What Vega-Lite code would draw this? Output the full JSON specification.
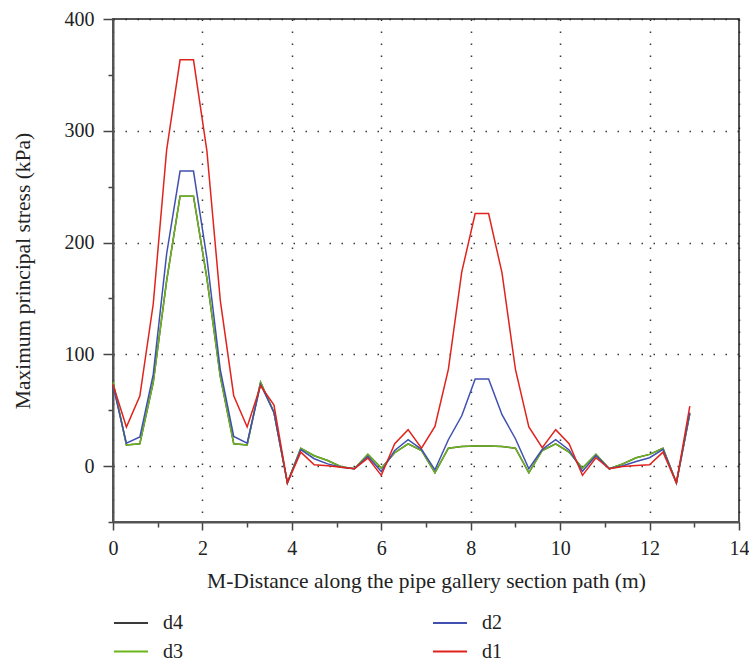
{
  "$schema": "https://vega.github.io/schema/vega-lite/v6.json",
  "width": 626,
  "height": 503,
  "padding": {"left": 12, "top": 9, "right": 0, "bottom": 0},
  "config": {
    "font": "Liberation Serif",
    "view": {"stroke": "#555555", "strokeWidth": 2},
    "axis": {
      "domainColor": "#555555",
      "domainWidth": 2,
      "tickColor": "#444444",
      "tickWidth": 1.5,
      "labelFont": "Liberation Serif",
      "titleFont": "Liberation Serif",
      "labelFontSize": 20,
      "titleFontSize": 21.5,
      "labelColor": "#222222",
      "titleColor": "#222222",
      "titleFontWeight": "normal",
      "labelFlush": false,
      "gridColor": "#222222",
      "gridDash": [1.5, 10.5],
      "gridWidth": 1.5,
      "gridOpacity": 0.9
    },
    "legend": {"padding": 0}
  },
  "data": {
    "values": [
      {"x": 0.0, "d1": 73, "d2": 72, "d3": 75, "d4": 75},
      {"x": 0.3, "d1": 35, "d2": 20.6, "d3": 19, "d4": 19},
      {"x": 0.6, "d1": 62.7, "d2": 26, "d3": 20, "d4": 20},
      {"x": 0.9, "d1": 145, "d2": 82, "d3": 75, "d4": 75},
      {"x": 1.2, "d1": 283, "d2": 190, "d3": 166, "d4": 166},
      {"x": 1.5, "d1": 363.5, "d2": 264, "d3": 241.5, "d4": 241.5},
      {"x": 1.8, "d1": 363.5, "d2": 264, "d3": 241.5, "d4": 241.5},
      {"x": 2.1, "d1": 282, "d2": 186, "d3": 168, "d4": 168},
      {"x": 2.4, "d1": 148, "d2": 86, "d3": 80, "d4": 80},
      {"x": 2.7, "d1": 63, "d2": 26.6, "d3": 20, "d4": 20},
      {"x": 3.0, "d1": 35, "d2": 20.6, "d3": 19, "d4": 19},
      {"x": 3.3, "d1": 72, "d2": 73, "d3": 75, "d4": 75},
      {"x": 3.6, "d1": 54.6, "d2": 48, "d3": 48, "d4": 48},
      {"x": 3.9, "d1": -15, "d2": -15, "d3": -15, "d4": -15},
      {"x": 4.2, "d1": 12.5, "d2": 14.7, "d3": 16, "d4": 16},
      {"x": 4.5, "d1": 1.2, "d2": 6.6, "d3": 9.3, "d4": 9.3},
      {"x": 4.8, "d1": 0.3, "d2": 2, "d3": 5, "d4": 5},
      {"x": 5.1, "d1": -1, "d2": -1, "d3": -0.5, "d4": -0.5},
      {"x": 5.4, "d1": -2.4, "d2": -2.4, "d3": -2.4, "d4": -2.4},
      {"x": 5.7, "d1": 7.2, "d2": 8.7, "d3": 10.5, "d4": 10.5},
      {"x": 6.0, "d1": -8.3, "d2": -4.8, "d3": -1.8, "d4": -1.8},
      {"x": 6.3, "d1": 20, "d2": 14, "d3": 12, "d4": 12},
      {"x": 6.6, "d1": 32.6, "d2": 23.6, "d3": 20, "d4": 20},
      {"x": 6.9, "d1": 16, "d2": 15, "d3": 14, "d4": 14},
      {"x": 7.2, "d1": 35.5, "d2": -3.3, "d3": -6, "d4": -6},
      {"x": 7.5, "d1": 86.6, "d2": 23.6, "d3": 16, "d4": 16},
      {"x": 7.8, "d1": 173.7, "d2": 45, "d3": 17.6, "d4": 17.6},
      {"x": 8.1, "d1": 226, "d2": 78, "d3": 18, "d4": 18},
      {"x": 8.4, "d1": 226, "d2": 78, "d3": 18, "d4": 18},
      {"x": 8.7, "d1": 172.8, "d2": 46, "d3": 17.5, "d4": 17.5},
      {"x": 9.0, "d1": 86.6, "d2": 24.5, "d3": 16, "d4": 16},
      {"x": 9.3, "d1": 35, "d2": -2.4, "d3": -6, "d4": -6},
      {"x": 9.6, "d1": 16.4, "d2": 15, "d3": 14, "d4": 14},
      {"x": 9.9, "d1": 32.6, "d2": 23.6, "d3": 20, "d4": 20},
      {"x": 10.2, "d1": 20, "d2": 14.5, "d3": 12.5, "d4": 12.5},
      {"x": 10.5, "d1": -8.3, "d2": -4.5, "d3": -1.8, "d4": -1.8},
      {"x": 10.8, "d1": 7.5, "d2": 9.3, "d3": 10.5, "d4": 10.5},
      {"x": 11.1, "d1": -2.4, "d2": -2.4, "d3": -2.4, "d4": -2.4},
      {"x": 11.4, "d1": -0.3, "d2": 0.3, "d3": 2, "d4": 2},
      {"x": 11.7, "d1": 0.6, "d2": 4.2, "d3": 7.5, "d4": 7.5},
      {"x": 12.0, "d1": 1.2, "d2": 7.5, "d3": 10.5, "d4": 10.5},
      {"x": 12.3, "d1": 12.5, "d2": 15, "d3": 16, "d4": 16},
      {"x": 12.6, "d1": -15, "d2": -15, "d3": -15, "d4": -15},
      {"x": 12.9, "d1": 53.7, "d2": 47.8, "d3": 47, "d4": 47}
    ]
  },
  "transform": [{"fold": ["d4", "d3", "d2", "d1"], "as": ["series", "value"]}],
  "layer": [
    {
      "mark": {"type": "line", "opacity": 0},
      "encoding": {
        "x": {
          "field": "x", "type": "quantitative",
          "scale": {"domain": [0, 14], "nice": false, "zero": false},
          "axis": {"values": [1, 3, 5, 7, 9, 11, 13], "tickSize": 5, "labels": false, "domain": false, "grid": false, "title": null, "orient": "bottom"}
        },
        "y": {
          "field": "value", "type": "quantitative",
          "scale": {"domain": [-50, 400], "nice": false, "zero": false},
          "axis": {"values": [-50, 50, 150, 250, 350], "tickSize": 5, "labels": false, "domain": false, "grid": false, "title": null, "orient": "left"}
        },
        "detail": {"field": "series"}
      }
    },
    {
      "mark": {"type": "line", "strokeWidth": 1.5},
      "encoding": {
        "x": {
          "field": "x", "type": "quantitative",
          "scale": {"domain": [0, 14], "nice": false, "zero": false},
          "axis": {"values": [0, 2, 4, 6, 8, 10, 12, 14], "tickSize": 8, "grid": true, "labelPadding": 8, "title": "M-Distance along the pipe gallery section path (m)", "titlePadding": 12, "orient": "bottom"}
        },
        "y": {
          "field": "value", "type": "quantitative",
          "scale": {"domain": [-50, 400], "nice": false, "zero": false},
          "axis": {"values": [0, 100, 200, 300, 400], "tickSize": 10, "grid": true, "labelPadding": 9, "title": "Maximum principal stress (kPa)", "titlePadding": 30, "orient": "left"}
        },
        "color": {
          "field": "series", "type": "nominal",
          "scale": {"domain": ["d4", "d2", "d3", "d1"], "range": ["#3a3a3a", "#4050b0", "#6cb41c", "#e0231c"]},
          "legend": {
            "orient": "none", "legendX": 0, "legendY": 586,
            "direction": "horizontal", "columns": 2, "columnPadding": 246, "rowPadding": 0.5,
            "title": null, "symbolType": "stroke", "symbolSize": 1156, "symbolStrokeWidth": 2,
            "labelFontSize": 20, "labelFont": "Liberation Serif", "labelColor": "#222222", "labelOffset": 14
          }
        }
      }
    }
  ],
  "resolve": {"axis": {"x": "independent", "y": "independent"}}
}
